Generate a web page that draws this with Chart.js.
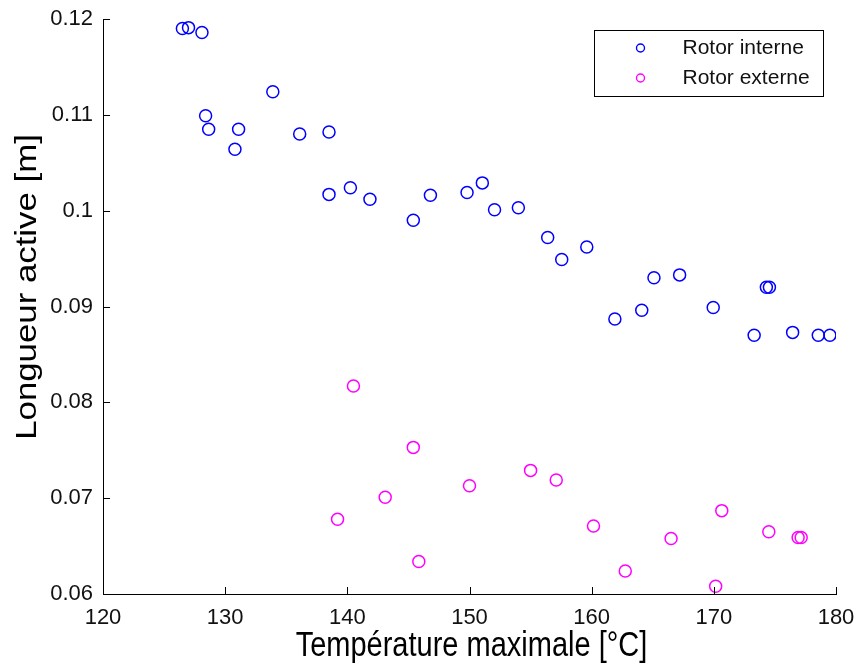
<!DOCTYPE html>
<html>
<head>
<meta charset="utf-8">
<script src="https://cdn.jsdelivr.net/npm/chart.js@4/dist/chart.umd.min.js"></script>
<style>
  html, body { margin: 0; padding: 0; background: #fff; }
  #wrap { width: 867px; height: 665px; }
</style>
</head>
<body>
<div id="wrap"><canvas id="c" width="867" height="665"></canvas></div>
<script>
// Maximum temperature [°C] and active length [m] for each rotor configuration
const tempInterne = [126.5, 127.0, 128.1, 133.9, 128.4, 128.65, 131.1, 130.8, 136.1, 138.5, 138.5, 140.25, 141.85,
  145.4, 146.8, 149.8, 151.05, 152.05, 154.0, 156.4, 157.55, 159.6, 161.9, 164.1, 165.1, 167.2, 169.95,
  174.3, 174.55, 173.3, 176.45, 178.55, 179.5];
const longInterne = [0.1190, 0.1191, 0.1186, 0.1124, 0.1099, 0.1085, 0.1085, 0.1064, 0.1080, 0.1082, 0.1017, 0.1024, 0.1012,
  0.0990, 0.1016, 0.1019, 0.1029, 0.1001, 0.1003, 0.0972, 0.0949, 0.0962, 0.0887, 0.0896, 0.0930, 0.0933, 0.0899,
  0.0920, 0.0920, 0.0870, 0.0873, 0.0870, 0.0870];

const tempExterne = [140.5, 145.4, 155.0, 157.1, 150.0, 143.1, 139.2, 170.65, 160.15, 174.5, 176.9, 177.15, 166.5, 145.85, 162.75, 170.15];
const longExterne = [0.0817, 0.0753, 0.0729, 0.0719, 0.0713, 0.0701, 0.0678, 0.0687, 0.0671, 0.0665, 0.0659, 0.0659, 0.0658, 0.0634, 0.0624, 0.0608];

const xTicks = [120, 130, 140, 150, 160, 170, 180];
const yTicks = [0.06, 0.07, 0.08, 0.09, 0.1, 0.11, 0.12];

const seriesNames = ['Rotor interne', 'Rotor externe'];
const seriesColors = ['#0000ff', '#ff00ff'];
const xTitle = 'Température maximale [°C]';
const yTitle = 'Longueur active [m]';

const toPoints = (xs, ys) => xs.map((x, i) => ({ x: x, y: ys[i] }));

const FONT = '"Liberation Sans", Arial, sans-serif';
Chart.defaults.font.family = FONT;

// Inward tick marks on the left and bottom axes
const inwardTicks = {
  id: 'inwardTicks',
  afterDraw(chart) {
    const ctx = chart.ctx;
    const xs = chart.scales.x, ys = chart.scales.y;
    const a = chart.chartArea;
    const len = 7;
    ctx.save();
    ctx.strokeStyle = '#000';
    ctx.lineWidth = 1;
    ctx.beginPath();
    xs.ticks.forEach(t => {
      const px = Math.round(xs.getPixelForValue(t.value)) + 0.5;
      ctx.moveTo(px, a.bottom);
      ctx.lineTo(px, a.bottom - len);
    });
    ys.ticks.forEach(t => {
      const py = Math.round(ys.getPixelForValue(t.value)) + 0.5;
      ctx.moveTo(a.left, py);
      ctx.lineTo(a.left + len, py);
    });
    ctx.stroke();
    ctx.restore();
  }
};

// Axis titles, set in a slightly tall letterform
const axisTitles = {
  id: 'axisTitles',
  afterDraw(chart) {
    const ctx = chart.ctx;
    const a = chart.chartArea;
    ctx.save();
    ctx.fillStyle = '#000';
    ctx.font = '29px ' + FONT;
    ctx.textAlign = 'center';

    ctx.save();
    ctx.translate((a.left + a.right) / 2 + 2, 656);
    ctx.scale(1, 1.2);
    ctx.textBaseline = 'alphabetic';
    ctx.fillText(xTitle, 0, 0);
    ctx.restore();

    ctx.save();
    ctx.translate(28, 287);
    ctx.rotate(-Math.PI / 2);
    ctx.scale(1.2, 1);
    ctx.textBaseline = 'middle';
    ctx.fillText(yTitle, 0, 0);
    ctx.restore();

    ctx.restore();
  }
};

// Boxed legend in the upper right of the plot area
const boxLegend = {
  id: 'boxLegend',
  afterDraw(chart) {
    const ctx = chart.ctx;
    const box = { x: 594.5, y: 30.5, w: 229, h: 66 };
    ctx.save();
    ctx.fillStyle = '#fff';
    ctx.fillRect(box.x, box.y, box.w, box.h);
    ctx.strokeStyle = '#000';
    ctx.lineWidth = 1;
    ctx.strokeRect(box.x, box.y, box.w, box.h);
    ctx.font = '21px ' + FONT;
    ctx.textBaseline = 'middle';
    ctx.textAlign = 'left';
    chart.data.datasets.forEach((ds, i) => {
      const cy = box.y + 17.5 + i * 30;
      ctx.beginPath();
      ctx.strokeStyle = ds.borderColor;
      ctx.lineWidth = 1.4;
      ctx.arc(box.x + 46, cy, 4, 0, Math.PI * 2);
      ctx.stroke();
      ctx.fillStyle = '#111';
      ctx.fillText(ds.label, box.x + 88, cy);
    });
    ctx.restore();
  }
};

new Chart(document.getElementById('c'), {
  type: 'scatter',
  data: {
    datasets: [
      {
        label: seriesNames[0],
        data: toPoints(tempInterne, longInterne),
        borderColor: seriesColors[0],
        backgroundColor: 'rgba(0,0,0,0)',
        pointRadius: 6,
        pointBorderWidth: 1.5,
        pointHoverRadius: 6
      },
      {
        label: seriesNames[1],
        data: toPoints(tempExterne, longExterne),
        borderColor: seriesColors[1],
        backgroundColor: 'rgba(0,0,0,0)',
        pointRadius: 6,
        pointBorderWidth: 1.5,
        pointHoverRadius: 6
      }
    ]
  },
  options: {
    responsive: false,
    animation: false,
    devicePixelRatio: 1,
    layout: { padding: { top: 19, right: 31, left: 0, bottom: 0 } },
    plugins: {
      legend: { display: false },
      tooltip: { enabled: false }
    },
    scales: {
      x: {
        type: 'linear',
        min: 120,
        max: 180,
        afterBuildTicks: s => { s.ticks = xTicks.map(v => ({ value: v })); },
        afterFit: s => { s.height = 71; s.paddingLeft = 0; s.paddingRight = 0; },
        grid: { display: false, drawTicks: false },
        border: { display: true, color: '#000', width: 1 },
        ticks: {
          color: '#111',
          font: { size: 22 },
          padding: 11,
          callback: v => String(v)
        },
        title: { display: false }
      },
      y: {
        type: 'linear',
        min: 0.06,
        max: 0.12,
        afterBuildTicks: s => { s.ticks = yTicks.map(v => ({ value: v })); },
        afterFit: s => { s.width = 103; s.paddingTop = 0; s.paddingBottom = 0; },
        grid: { display: false, drawTicks: false },
        border: { display: true, color: '#000', width: 1 },
        ticks: {
          color: '#111',
          font: { size: 22 },
          padding: 10,
          callback: v => String(+Number(v).toFixed(2))
        },
        title: { display: false }
      }
    }
  },
  plugins: [inwardTicks, axisTitles, boxLegend]
});
</script>
</body>
</html>
